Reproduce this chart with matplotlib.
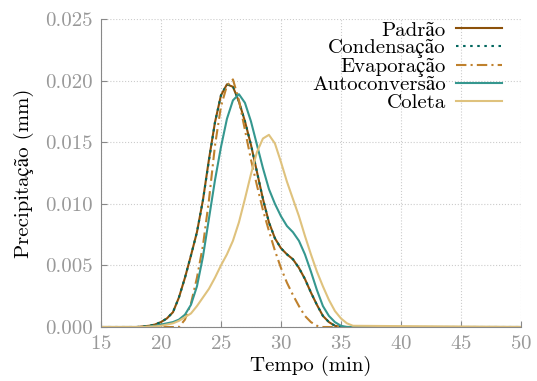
import numpy as np
import matplotlib
matplotlib.use("Agg")
import matplotlib.pyplot as plt

plt.rcParams["font.family"] = ["cmr10", "STIXGeneral"]
plt.rcParams["mathtext.fontset"] = "cm"
plt.rcParams["axes.formatter.use_mathtext"] = True

# tempo (min)
tempo = [15, 18, 18.5, 19, 19.5, 20, 20.5, 21, 21.5, 22, 22.5, 23, 23.5, 24, 24.5,
         25, 25.5, 26, 26.5, 27, 27.5, 28, 28.5, 29, 29.5, 30, 30.5, 31, 31.5,
         32, 32.5, 33, 33.5, 34, 34.5, 35, 35.5, 36, 50]

padrao = [0, 0, 0.00005, 0.0001, 0.0002, 0.0004, 0.0007, 0.0012, 0.0024, 0.0040, 0.0058,
          0.0077, 0.0103, 0.0136, 0.0166, 0.0188, 0.0197, 0.0195, 0.0183, 0.0167,
          0.0148, 0.0126, 0.0104, 0.0085, 0.0072, 0.0064, 0.0059, 0.0055, 0.0048,
          0.0039, 0.0028, 0.0018, 0.0009, 0.0004, 0.0001, 0, 0, 0, 0]
condensacao = [0, 0, 0.00005, 0.0001, 0.0002, 0.0004, 0.0007, 0.0012, 0.0024, 0.0040, 0.0058,
               0.0077, 0.0103, 0.0135, 0.0166, 0.0188, 0.0197, 0.0196, 0.0183, 0.0167,
               0.0148, 0.0126, 0.0104, 0.0085, 0.0072, 0.0064, 0.0059, 0.0055, 0.0048,
               0.0039, 0.0028, 0.0018, 0.0009, 0.0004, 0.0001, 0, 0, 0, 0]
evaporacao = [0, 0, 0, 0, 0, 0, 0, 0, 0, 0.0006, 0.0019, 0.0040, 0.0066, 0.0103,
              0.0147, 0.0179, 0.0196, 0.0201, 0.0184, 0.0160, 0.0136, 0.0115, 0.0095,
              0.0078, 0.0062, 0.0048, 0.0036, 0.0026, 0.0017, 0.0009, 0.0004, 0.0001,
              0, 0, 0, 0, 0, 0, 0]
autoconversao = [0, 0, 0, 0.00003, 0.0001, 0.0002, 0.0003, 0.0004, 0.0006, 0.0010,
                 0.0018, 0.0033, 0.0057, 0.0088, 0.0119, 0.0146, 0.0169, 0.0184, 0.0189,
                 0.0182, 0.0167, 0.0148, 0.0129, 0.0112, 0.0100, 0.0090, 0.0082, 0.0077,
                 0.0070, 0.0059, 0.0045, 0.0030, 0.0017, 0.0009, 0.0004, 0.0001, 0,
                 0, 0]
coleta = [0, 0, 0, 0.00003, 0.00005, 0.0001, 0.0002, 0.0003, 0.0005, 0.0008, 0.0011,
          0.0017, 0.0024, 0.0031, 0.0040, 0.0050, 0.0059, 0.0070, 0.0085, 0.0104,
          0.0124, 0.0142, 0.0153, 0.0156, 0.0149, 0.0134, 0.0118, 0.0104, 0.0090,
          0.0074, 0.0059, 0.0045, 0.0033, 0.0022, 0.0013, 0.0007, 0.0003, 0.0001, 0]

fig = plt.figure(figsize=(5.37, 3.81), dpi=100)
ax = fig.add_axes([0.188, 0.1417, 0.782, 0.8083])

ax.plot(tempo, padrao, color="#8c510a", lw=1.5, label="Padrão")
ax.plot(tempo, condensacao, color="#01665e", lw=1.5, ls=(0, (1.2, 2.2)), label="Condensação")
ax.plot(tempo, evaporacao, color="#bf812d", lw=1.5, ls=(0, (5, 2, 1, 2)), label="Evaporação")
ax.plot(tempo, autoconversao, color="#35978f", lw=1.5, label="Autoconversão")
ax.plot(tempo, coleta, color="#dfc27d", lw=1.5, label="Coleta")

ax.set_xlim(15, 50)
ax.set_ylim(0, 0.025)
ax.set_xticks(np.arange(15, 51, 5))
ax.set_yticks(np.arange(0, 0.0251, 0.005))
ax.set_yticklabels([f"{v:.3f}" for v in np.arange(0, 0.0251, 0.005)])
ax.grid(True, ls=":", color="#cccccc", lw=0.8)
for s in ["top", "right"]:
    ax.spines[s].set_visible(False)
for s in ["left", "bottom"]:
    ax.spines[s].set_color("#888888")
ax.tick_params(direction="in", colors="#888888", labelcolor="#999999", labelsize=15,
               length=4, pad=6)

ax.set_xlabel("Tempo (min)", fontsize=15, labelpad=2)
ax.set_ylabel("Precipitação (mm)", fontsize=15, labelpad=8)

ax.legend(loc="upper right", frameon=False, markerfirst=False, fontsize=15,
          labelspacing=-0.05, handlelength=2.2, borderaxespad=0.0, borderpad=0.1,
          handletextpad=0.5, bbox_to_anchor=(0.96, 1.0))

fig.savefig("out.png", dpi=100)
